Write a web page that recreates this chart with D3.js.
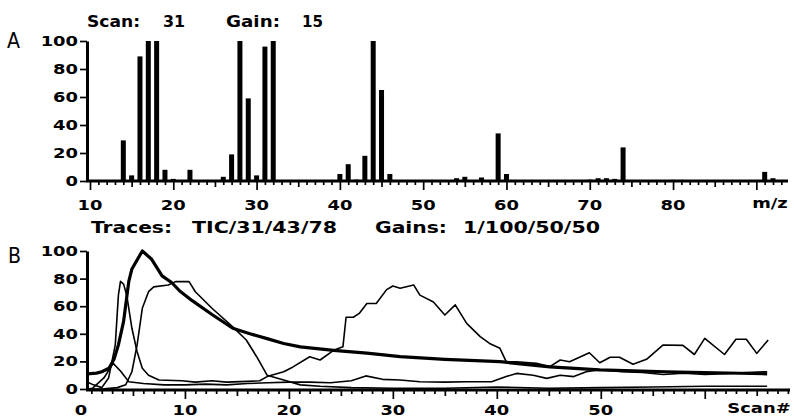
<!DOCTYPE html>
<html>
<head>
<meta charset="utf-8" />
<title>Scan 31 spectrum and ion traces</title>
<script src="https://cdn.jsdelivr.net/npm/d3@7"></script>
<style>
body { margin: 0; background: #fff; }
svg { display: block; }
.tick text, .lbl { font-family: "DejaVu Sans", Verdana, sans-serif; font-weight: bold; fill: #000; }
.tick text { font-size: 14px; }
.lbl { font-size: 15px; }
.panel { font-family: "DejaVu Sans", sans-serif; font-stretch: condensed; font-size: 21px; fill: #000; }
</style>
</head>
<body>
<svg id="chart" width="794" height="417"></svg>
<script>
// spectrum A: m/z and relative intensity (scan 31)
const massValues  = [14, 15, 16, 17, 18, 19, 20, 22, 26, 27, 28, 29, 30, 31, 32, 33, 40, 41, 42, 43, 44, 45, 46, 54, 55, 57, 59, 60, 70, 71, 72, 73, 74, 80, 81, 91, 92];
const intensities = [29, 4, 89, 100, 100, 8, 1.5, 8, 3, 19, 100, 59, 4, 96, 100, 0.7, 5, 12, 1, 18, 100, 65, 5, 2, 3, 2.5, 34, 5, 1, 2, 2, 1.5, 24, 0.8, 0.8, 6.5, 2];

// traces B: [scan, value]
const ticTrace = [[0.6, 11], [1.5, 11.5], [2.0, 12.5], [2.7, 15], [3.2, 22], [3.6, 32], [4.1, 49], [4.6, 78], [4.9, 87], [5.9, 100],
  [6.8, 94], [7.8, 82], [8.75, 77], [9.5, 71], [10.7, 64], [12.6, 54], [14.6, 44], [16.25, 40], [17.9, 36.5], [19.5, 33],
  [21.1, 30.5], [24.3, 28], [27.5, 26], [30.7, 23.5], [35, 21.5], [40.3, 19.8], [45.1, 16], [49.9, 13.8], [56.3, 12.5], [66, 11]];
const trace31 = [[0.6, 5], [1.2, 3], [2.0, 1], [2.66, 8], [3.3, 32], [3.6, 68], [3.8, 78], [4.1, 76], [4.4, 68], [4.9, 44],
  [5.4, 27], [5.9, 15], [6.5, 10], [7.5, 6.5], [9.7, 6], [11, 5], [12.6, 6], [14, 5], [16, 5.5], [17.2, 6], [17.9, 9],
  [19.5, 12.5], [20.4, 16], [22, 23.4], [23, 21], [24.3, 28], [25.2, 30.7], [25.5, 52], [26.2, 52], [26.8, 55], [27.5, 62],
  [28.4, 62], [29.4, 72], [30, 74.6], [30.7, 73], [32, 75.4], [32.6, 68], [33.9, 63], [35, 53.6], [36, 61], [37.1, 47.6],
  [38.4, 38], [39.3, 33], [40.3, 29.5], [40.9, 19.8], [41.9, 19.8], [43.8, 18.6], [45.1, 16.2], [46.1, 21], [47, 19.8],
  [48.9, 26.3], [49.9, 19], [50.9, 23], [51.8, 23], [53.1, 17.9], [54.4, 21.5], [56, 31.9], [57.9, 31.6], [59, 25],
  [60, 36.7], [61.9, 25], [63, 36], [64, 36], [65, 25.8], [66.1, 35.5]];
const trace43 = [[0.6, 0], [2, 0], [3.5, 1], [4.3, 3], [4.9, 12.5], [5.4, 32], [5.9, 58.5], [6.5, 70.5], [7.0, 74], [8.4, 75.4],
  [9.1, 77.8], [10.4, 77.8], [11.0, 70.5], [12.6, 58.5], [14.6, 45], [15.9, 35.5], [16.9, 23.4], [17.9, 10], [19.5, 6.5],
  [21.1, 3], [23, 2], [26, 1], [30, 0.5], [35, 0.5], [40, 1.5], [45, 0.5], [50, 1], [55, 1.5], [60, 2], [66, 2]];
const trace78 = [[0.6, 0], [1.1, 0.5], [2.2, 8], [3.1, 18.6], [3.8, 13], [4.6, 5.3], [6, 4], [8, 3], [10, 3], [12, 3.5], [14, 3],
  [16, 4], [18, 4.5], [20, 5], [22, 5], [24, 4.5], [26, 6], [27.4, 9.5], [29, 7], [30.7, 6.5], [32.6, 5.3], [35, 5], [37.1, 5.3],
  [39.5, 5.3], [40.9, 9], [41.9, 11.3], [43.5, 10], [44.8, 7.7], [46.1, 10], [47.4, 9], [48.6, 12.5], [49.9, 14], [52, 12.5],
  [54, 12], [56, 10.5], [58, 11.5], [60, 10.5], [62, 11], [64, 12], [66, 12.5]];
const traces = [trace31, trace43, trace78];

const yTicks = [0, 20, 40, 60, 80, 100];
const mzLabels = [10, 20, 30, 40, 50, 60, 70, 80];
const scanLabels = [0, 10, 20, 30, 40, 50];

const svg = d3.select("#chart");
const stretch = 1.28;

function label(text, x, y, w) {
  svg.append("text").attr("class", "lbl").attr("x", x).attr("y", y)
    .attr("textLength", w).attr("lengthAdjust", "spacingAndGlyphs").text(text);
}

// x axis with 1/5/10 ticks and a thick base line
function xAxis(scale, y) {
  const [lo, hi] = scale.domain();
  const all = d3.range(Math.ceil(lo), Math.floor(hi) + 1);
  const sets = [[all.filter(v => v % 5 != 0), 4], [all.filter(v => v % 5 == 0 && v % 10 != 0), 6], [all.filter(v => v % 10 == 0), 9]];
  sets.forEach(([vals, size]) => {
    svg.append("g").attr("transform", `translate(0,${y})`)
      .call(d3.axisBottom(scale).tickValues(vals).tickSize(size).tickSizeOuter(0).tickFormat(""))
      .call(g => g.select(".domain").remove())
      .selectAll("line").attr("stroke", "#000").attr("stroke-width", 1.7);
  });
  svg.append("line").attr("x1", scale.range()[0] - 1).attr("x2", scale.range()[1])
    .attr("y1", y).attr("y2", y).attr("stroke", "#000").attr("stroke-width", 3);
}

function xLabels(scale, vals, y) {
  svg.append("g").selectAll("text").data(vals).join("text")
    .attr("class", "tick").attr("transform", d => `translate(${scale(d)},${y}) scale(${stretch},1)`)
    .append("tspan").attr("text-anchor", "middle")
    .style("font-family", '"DejaVu Sans", Verdana, sans-serif').style("font-weight", "bold").style("font-size", "14px")
    .text(d => d);
}

function yAxis(scale, x) {
  svg.append("g").attr("transform", `translate(${x},0)`)
    .call(d3.axisLeft(scale).tickValues(yTicks).tickSize(7).tickSizeOuter(0))
    .call(g => g.select(".domain").attr("stroke-width", 3))
    .call(g => g.selectAll("line").attr("stroke-width", 1.7))
    .selectAll("text").attr("x", -9 / stretch).attr("transform", `scale(${stretch},1)`);
}

// ---- panel A ----
const xA = d3.scaleLinear().domain([9.64, 93.8]).range([87, 788]);
const yA = d3.scaleLinear().domain([0, 100]).range([181, 41]);

svg.append("g").selectAll("rect").data(massValues).join("rect")
  .attr("x", d => xA(d) - 2.5).attr("width", 5)
  .attr("y", (d, i) => yA(intensities[i]))
  .attr("height", (d, i) => yA(0) - yA(intensities[i]))
  .attr("fill", "#000");

xAxis(xA, yA(0));
yAxis(yA, 87);
xLabels(xA, mzLabels, 210);
svg.append("text").attr("x", 770).attr("y", 208).attr("text-anchor", "middle")
  .attr("transform", `translate(770,0) scale(${stretch},1) translate(-770,0)`)
  .style("font-family", '"DejaVu Sans", Verdana, sans-serif').style("font-weight", "bold").style("font-size", "14px")
  .text("m/z");

label("Scan:", 87, 27, 53);
label("31", 163, 27, 22);
label("Gain:", 226, 27, 54);
label("15", 302, 27, 21);
svg.append("text").attr("class", "panel").attr("x", 7).attr("y", 48)
  .attr("textLength", 13).attr("lengthAdjust", "spacingAndGlyphs").text("A");

// ---- panel B ----
const xB = d3.scaleLinear().domain([0.58, 68.2]).range([87, 790]);
const yB = d3.scaleLinear().domain([0, 100]).range([389, 251]);

const line = d3.line().x(d => xB(d[0])).y(d => yB(d[1]));
svg.append("g").selectAll("path").data(traces).join("path")
  .attr("d", line).attr("fill", "none").attr("stroke", "#000")
  .attr("stroke-width", 1.6).attr("stroke-linejoin", "round");
svg.append("path").datum(ticTrace).attr("d", line).attr("fill", "none")
  .attr("stroke", "#000").attr("stroke-width", 3.2).attr("stroke-linejoin", "round");

xAxis(xB, 390);
yAxis(yB, 87);
xLabels(xB, scanLabels, 415);
svg.append("text").attr("transform", `translate(759,413) scale(${stretch},1)`).attr("text-anchor", "middle")
  .style("font-family", '"DejaVu Sans", Verdana, sans-serif').style("font-weight", "bold").style("font-size", "14px")
  .text("Scan#");

label("Traces:", 91, 233, 81);
label("TIC/31/43/78", 192, 233, 145);
label("Gains:", 375, 233, 72);
label("1/100/50/50", 463, 233, 137);
svg.append("text").attr("class", "panel").attr("x", 8).attr("y", 263)
  .attr("textLength", 13).attr("lengthAdjust", "spacingAndGlyphs").text("B");
</script>
</body>
</html>
